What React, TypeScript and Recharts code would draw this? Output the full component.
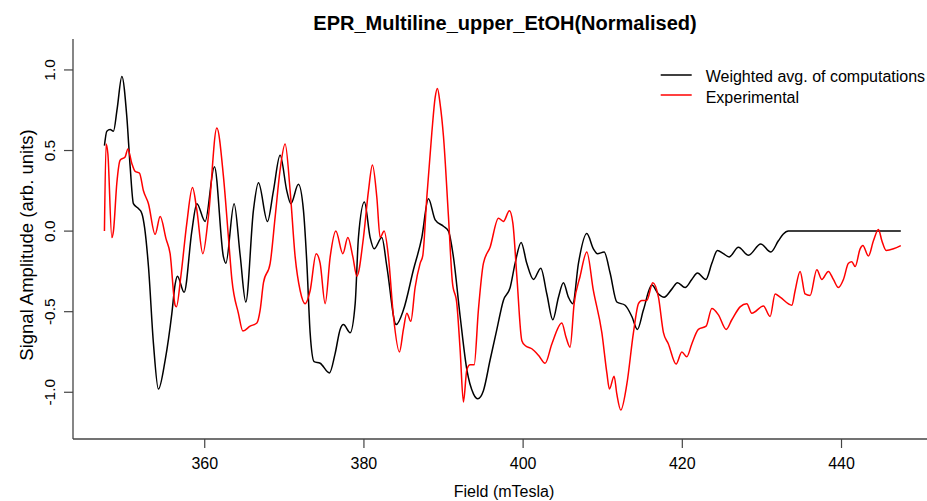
import React from 'react';
import { LineChart, Line, XAxis, YAxis, Legend } from 'recharts';

const FONT = '"Liberation Sans", Arial, Helvetica, sans-serif';

const chartTitle = 'EPR_Multiline_upper_EtOH(Normalised)';
const xAxisTitle = 'Field (mTesla)';
const yAxisTitle = 'Signal Amplitude (arb. units)';
const seriesNames = ['Weighted avg. of computations', 'Experimental'];
const xTicks = [360, 380, 400, 420, 440];
const yTicks = [-1, -0.5, 0, 0.5, 1];

const fieldComputed = [
  347.4, 347.7, 348.12, 348.53, 349.0, 349.59, 350.21, 350.63, 351.04, 351.67,
  352.1, 352.45, 352.93, 353.56, 354.18, 355.03, 355.87, 356.28, 356.57, 357.41,
  358.38, 359.01, 360.05, 361.22, 362.35, 362.65, 363.69, 364.45, 365.16, 366.12,
  366.75, 367.88, 368.63, 369.47, 370.31, 370.82, 371.77, 372.4, 372.83, 373.24,
  373.74, 374.5, 375.67, 376.38, 377.01, 377.43, 378.27, 378.9, 379.31, 380.06,
  380.78, 381.28, 382.25, 382.88, 384.05, 384.96, 386.22, 387.27, 388.1, 388.95,
  389.99, 390.62, 391.24, 392.09, 392.93, 393.76, 394.31, 395.01, 395.85, 396.7,
  397.52, 398.37, 398.99, 399.75, 400.46, 401.3, 402.22, 402.98, 403.73, 404.44,
  405.06, 405.69, 406.24, 406.95, 408.0, 408.83, 409.34, 410.18, 410.93, 411.77,
  412.81, 413.66, 414.36, 415.11, 416.17, 417.0, 417.71, 418.68, 419.39, 420.35,
  421.19, 421.9, 422.95, 423.71, 424.41, 425.16, 425.88, 427.05, 428.3, 429.86,
  431.12, 432.07, 432.66, 433.33, 447.45,
];

const ampComputed = [
  0.53, 0.62, 0.63, 0.62, 0.76, 0.96, 0.71, 0.4, 0.17, 0.14,
  0.11, 0.02, -0.22, -0.7, -0.98, -0.8, -0.51, -0.33, -0.28, -0.38,
  0.0, 0.17, 0.06, 0.4, -0.16, -0.2, 0.17, -0.15, -0.44, 0.13,
  0.3, 0.06, 0.25, 0.47, 0.25, 0.17, 0.29, 0.13, -0.2, -0.63,
  -0.81, -0.82, -0.88, -0.76, -0.61, -0.58, -0.63, -0.45, -0.04, 0.18,
  -0.04, -0.11, -0.04, -0.22, -0.58, -0.49, -0.24, -0.04, 0.2, 0.07,
  0.03, 0.0, -0.16, -0.53, -0.86, -1.01, -1.04, -0.99, -0.8, -0.61,
  -0.43, -0.35, -0.2, -0.07, -0.2, -0.3, -0.23, -0.39, -0.55, -0.41,
  -0.32, -0.41, -0.45, -0.2, -0.015, -0.11, -0.14, -0.13, -0.26, -0.44,
  -0.46, -0.53, -0.61, -0.49, -0.335, -0.39, -0.41, -0.36, -0.32, -0.35,
  -0.3, -0.26, -0.3, -0.2, -0.12, -0.14, -0.16, -0.1, -0.15, -0.08,
  -0.13, -0.06, -0.02, 0.0, 0.0,
];

const fieldExperimental = [
  347.4, 347.61, 347.83, 348.33, 348.53, 348.96, 349.37, 350.0, 350.34, 350.84,
  351.26, 351.8, 352.3, 352.93, 353.77, 354.4, 355.15, 355.65, 356.28, 356.44,
  357.0, 357.75, 358.46, 359.01, 359.76, 360.46, 361.52, 362.35, 362.98, 363.41,
  364.23, 364.79, 365.7, 366.55, 366.96, 367.38, 368.22, 368.85, 369.47, 370.1,
  370.73, 371.36, 371.99, 372.61, 373.24, 374.0, 374.5, 375.13, 375.76, 376.47,
  377.35, 377.98, 378.61, 379.11, 379.94, 380.57, 381.07, 381.62, 382.04, 382.54,
  383.08, 383.71, 384.46, 384.96, 385.39, 385.89, 386.43, 387.06, 387.4, 387.9,
  388.53, 388.95, 389.23, 389.57, 389.99, 390.62, 391.12, 391.67, 392.09, 392.5,
  392.93, 393.34, 393.85, 394.38, 395.01, 395.85, 396.9, 397.52, 398.28, 398.71,
  399.21, 399.84, 400.25, 401.09, 401.92, 402.76, 403.61, 404.86, 405.4, 405.9,
  406.41, 407.16, 408.0, 408.83, 409.89, 410.52, 410.84, 411.43, 411.77, 412.27,
  413.03, 413.86, 414.49, 414.91, 415.54, 416.29, 417.0, 417.63, 418.25, 419.22,
  419.94, 420.56, 421.19, 422.02, 422.99, 423.71, 424.54, 425.51, 426.22, 427.26,
  428.1, 428.73, 430.19, 431.03, 431.66, 432.29, 433.76, 434.17, 434.8, 435.42,
  436.05, 436.9, 437.52, 438.35, 438.98, 439.61, 440.24, 440.87, 441.29, 441.71,
  442.34, 442.68, 443.38, 444.01, 444.64, 445.07, 445.61, 446.53, 447.45,
];

const ampExperimental = [
  0.0, 0.54, 0.48, -0.04, 0.0, 0.3, 0.44, 0.46, 0.51, 0.42,
  0.37, 0.36, 0.25, 0.17, -0.02, 0.09, -0.05, -0.14, -0.46, -0.47,
  -0.28, 0.05, 0.27, 0.13, -0.14, 0.09, 0.64, 0.34, -0.04, -0.3,
  -0.51, -0.62, -0.59, -0.57, -0.49, -0.32, -0.2, 0.09, 0.38, 0.54,
  0.25, -0.16, -0.37, -0.45, -0.37, -0.14, -0.2, -0.45, -0.16, 0.0,
  -0.14, -0.04, -0.16, -0.28, -0.04, 0.25, 0.41, 0.21, -0.04, 0.0,
  -0.16, -0.53, -0.75, -0.61, -0.51, -0.56, -0.35, -0.2, -0.15, 0.21,
  0.61, 0.83, 0.885, 0.79, 0.59, 0.09, -0.32, -0.45, -0.74, -1.06,
  -0.86, -0.83, -0.83, -0.49, -0.2, -0.1, 0.08, 0.06, 0.126, 0.05,
  -0.28, -0.68, -0.71, -0.73, -0.77, -0.82, -0.7, -0.57, -0.66, -0.72,
  -0.45, -0.28, -0.13, -0.37, -0.63, -0.88, -0.98, -0.9, -1.01, -1.11,
  -0.95, -0.63, -0.45, -0.43, -0.43, -0.32, -0.41, -0.63, -0.7, -0.825,
  -0.75, -0.78, -0.7, -0.61, -0.59, -0.48, -0.52, -0.61, -0.55, -0.47,
  -0.45, -0.51, -0.465, -0.53, -0.39, -0.41, -0.46, -0.37, -0.25, -0.39,
  -0.4, -0.24, -0.3, -0.25, -0.3, -0.35, -0.3, -0.2, -0.19, -0.22,
  -0.11, -0.09, -0.155, -0.06, 0.01, -0.06, -0.12, -0.11, -0.09,
];

const computedData = fieldComputed.map((field, i) => ({ field, amp: ampComputed[i] }));
const experimentalData = fieldExperimental.map((field, i) => ({ field, amp: ampExperimental[i] }));

const YTick = (props: any) => {
  const { x, y, payload } = props;
  return (
    <text
      x={x}
      y={y}
      transform={`rotate(-90 ${x} ${y})`}
      textAnchor="middle"
      fontSize={15.5}
      fontFamily={FONT}
      fill="#000"
    >
      {Number(payload.value).toFixed(1)}
    </text>
  );
};

const LegendContent = (props: any) => {
  const payload = [...(props.payload || [])].sort(
    (a: any, b: any) => seriesNames.indexOf(a.value) - seriesNames.indexOf(b.value)
  );
  return (
    <svg width={277} height={50} style={{ display: 'block', overflow: 'visible' }}>
      {payload.map((entry: any, i: number) => (
        <g key={i}>
          <line x1={10.7} x2={41.7} y1={15 + i * 20} y2={15 + i * 20} stroke={entry.color} strokeWidth={1.5} />
          <text x={55.7} y={21.7 + i * 21.6} fontSize={16} fontFamily={FONT} fill="#000">
            {entry.value}
          </text>
        </g>
      ))}
    </svg>
  );
};

export default function App() {
  return (
    <div style={{ position: 'absolute', left: 0, top: 0, width: 927, height: 501, overflow: 'hidden', background: '#fff' }}>
      <LineChart width={927} height={501} margin={{ top: 39, right: 0, bottom: 0, left: 0 }}>
        <XAxis
          dataKey="field"
          type="number"
          domain={[343.45, 450.74]}
          ticks={xTicks}
          allowDataOverflow
          height={62}
          tickSize={9}
          tickMargin={10}
          interval={0}
          axisLine={{ stroke: '#444', strokeWidth: 1.3 }}
          tickLine={{ stroke: '#444', strokeWidth: 1.2 }}
          tick={{ fontSize: 16, fill: '#000', fontFamily: FONT }}
        />
        <YAxis
          type="number"
          domain={[-1.29, 1.192]}
          ticks={yTicks}
          allowDataOverflow
          width={73}
          tickSize={9}
          tickMargin={8.5}
          interval={0}
          axisLine={{ stroke: '#444', strokeWidth: 1.3 }}
          tickLine={{ stroke: '#444', strokeWidth: 1.2 }}
          tick={<YTick />}
        />
        <Legend
          layout="vertical"
          align="center"
          verticalAlign="middle"
          content={<LegendContent />}
          wrapperStyle={{ position: 'absolute', top: 60, left: 650, width: 277, height: 50 }}
        />
        <Line
          data={computedData}
          dataKey="amp"
          name={seriesNames[0]}
          type="monotone"
          stroke="#000000"
          strokeWidth={1.5}
          dot={false}
          activeDot={false}
          isAnimationActive={false}
        />
        <Line
          data={experimentalData}
          dataKey="amp"
          name={seriesNames[1]}
          type="monotone"
          stroke="#ff0000"
          strokeWidth={1.5}
          dot={false}
          activeDot={false}
          isAnimationActive={false}
        />
      </LineChart>
      <svg
        width={927}
        height={501}
        style={{ position: 'absolute', left: 0, top: 0, pointerEvents: 'none' }}
      >
        <text x={505} y={30} textAnchor="middle" fontSize={20} fontWeight="bold" fontFamily={FONT} fill="#000">
          {chartTitle}
        </text>
        <text x={504} y={497} textAnchor="middle" fontSize={16} fontFamily={FONT} fill="#000">
          {xAxisTitle}
        </text>
        <text
          x={33}
          y={245}
          transform="rotate(-90 33 245)"
          textAnchor="middle"
          fontSize={18.5}
          fontFamily={FONT}
          fill="#000"
        >
          {yAxisTitle}
        </text>
      </svg>
    </div>
  );
}
